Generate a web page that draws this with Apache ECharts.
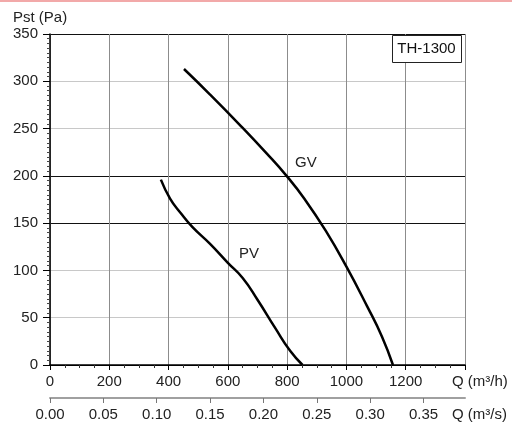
<!DOCTYPE html>
<html>
<head>
<meta charset="utf-8">
<script src="https://cdn.jsdelivr.net/npm/echarts@6/dist/echarts.min.js"></script>
<style>
html,body{margin:0;padding:0;background:#fff;}
#c{width:512px;height:428px;}
</style>
</head>
<body>
<div id="c"></div>
<script>
// Q in m3/h, Pst in Pa
var gvQ = [452, 540, 640, 730, 798, 860, 930, 1000, 1070, 1120, 1157];
var gvP = [313, 286, 254, 224, 200, 175, 142, 104, 62, 30, 0];
var pvQ = [374, 405, 440, 480, 540, 600, 650, 700, 760, 810, 852];
var pvP = [196, 176, 161, 146, 128, 108, 92, 69, 39, 15, 0];
var qTicksM3s = [0, 0.05, 0.10, 0.15, 0.20, 0.25, 0.30, 0.35];
var yGridColors = ['#000', '#c8c8c8', '#c8c8c8', '#111', '#111', '#c8c8c8', '#c8c8c8', '#111'];

function pairs(xs, ys) { return xs.map(function (x, i) { return [x, ys[i]]; }); }

var FONT = 'Liberation Sans, Arial, sans-serif';
var FS = 15;
var chart = echarts.init(document.getElementById('c'), null, { renderer: 'canvas' });
chart.setOption({
  animation: false,
  backgroundColor: '#fff',
  textStyle: { fontFamily: FONT },
  grid: { left: 50, right: 47, top: 34, bottom: 63, containLabel: false },
  xAxis: [{
    type: 'value', min: 0, max: 1400, interval: 200,
    axisLine: { lineStyle: { color: '#000', width: 1.5 } },
    axisTick: { length: 5, lineStyle: { color: '#000' } },
    minorTick: { show: true, splitNumber: 4, length: 3, lineStyle: { color: '#333' } },
    axisLabel: { margin: 9, fontSize: FS, color: '#222', fontFamily: FONT, showMaxLabel: false,
      formatter: function (v) { return String(v); } },
    splitLine: { show: true, lineStyle: { color: '#8c8c8c', width: 1 } }
  }, {
    type: 'value', min: 0, max: 1400 / 3600, position: 'bottom', offset: 33,
    axisLine: { lineStyle: { color: '#a0a0a0', width: 2 } },
    axisTick: { length: 5, customValues: qTicksM3s, lineStyle: { color: '#777' } },
    axisLabel: { margin: 9, fontSize: FS, color: '#222', fontFamily: FONT, customValues: qTicksM3s,
      formatter: function (v) { return v.toFixed(2); } },
    splitLine: { show: false }
  }],
  yAxis: {
    type: 'value', min: 0, max: 350, interval: 50,
    axisLine: { show: true, lineStyle: { color: '#000', width: 1.5 } },
    axisTick: { show: true, length: 7, lineStyle: { color: '#000' } },
    minorTick: { show: true, splitNumber: 10, length: 3, lineStyle: { color: '#444' } },
    axisLabel: { margin: 12, fontSize: FS, color: '#222', fontFamily: FONT },
    splitLine: { show: true, lineStyle: { color: yGridColors, width: 1 } }
  },
  series: [{
    name: 'GV', type: 'line', xAxisIndex: 0, showSymbol: false, smooth: 0.5,
    lineStyle: { color: '#000', width: 2.5 }, data: pairs(gvQ, gvP)
  }, {
    name: 'PV', type: 'line', xAxisIndex: 0, showSymbol: false, smooth: 0.5,
    lineStyle: { color: '#000', width: 2.5 }, data: pairs(pvQ, pvP)
  }],
  graphic: [
    { type: 'rect', left: 0, top: 0, shape: { width: 512, height: 2 }, style: { fill: '#f2a9a9' } },
    { type: 'text', x: 13, y: 18, style: { text: 'Pst (Pa)', font: FS + 'px ' + FONT, fill: '#222', verticalAlign: 'middle' } },
    { type: 'text', x: 452, y: 382, style: { text: 'Q (m³/h)', font: FS + 'px ' + FONT, fill: '#222', verticalAlign: 'middle' } },
    { type: 'text', x: 452, y: 415, style: { text: 'Q (m³/s)', font: FS + 'px ' + FONT, fill: '#222', verticalAlign: 'middle' } },
    { type: 'text', x: 295, y: 163, style: { text: 'GV', font: FS + 'px ' + FONT, fill: '#222', verticalAlign: 'middle' } },
    { type: 'text', x: 239, y: 254, style: { text: 'PV', font: FS + 'px ' + FONT, fill: '#222', verticalAlign: 'middle' } },
    { type: 'rect', left: 392, top: 35, shape: { width: 69, height: 27 }, style: { fill: '#fff', stroke: '#222', lineWidth: 1 }, z: 10 },
    { type: 'text', x: 426.5, y: 49, style: { text: 'TH-1300', font: FS + 'px ' + FONT, fill: '#111', align: 'center', verticalAlign: 'middle' }, z: 11 }
  ]
});
</script>
</body>
</html>
